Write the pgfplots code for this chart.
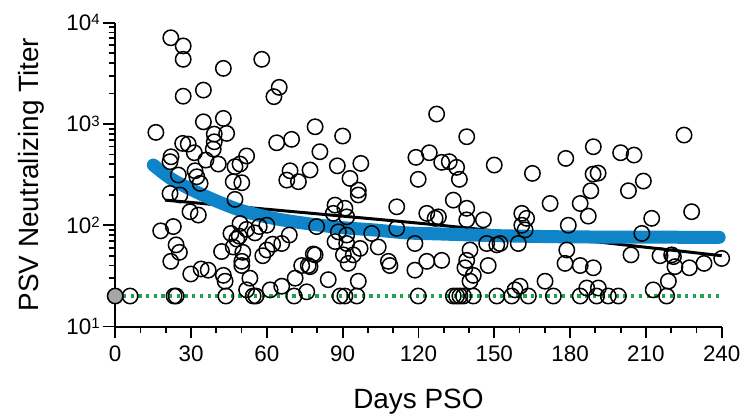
\documentclass[border=0pt]{standalone}
\usepackage{fontspec}
\setmainfont{Liberation Sans}
\usepackage{pgfplots}
\pgfplotsset{compat=1.18}
\definecolor{fitblue}{RGB}{16,132,200}
\definecolor{dotgreen}{RGB}{30,160,80}
\definecolor{lodgray}{RGB}{166,166,166}
\newcommand{\tenpow}[1]{10\raisebox{5.8bp}{\fontsize{15}{15}\selectfont #1}}
\begin{document}
\begin{tikzpicture}
\useasboundingbox (-115.2bp,-87.5bp) rectangle (629.8bp,326.5bp);
\begin{axis}[
  at={(0,0)}, anchor=south west,
  scale only axis, width=606.5bp, height=303.8bp,
  xmin=0, xmax=240, ymin=10, ymax=10000, ymode=log,
  axis lines=left, axis line style={-, line width=2bp},
  clip=false,
  xtick={0,30,...,240}, minor x tick num=2,
  ytick={10,100,1000,10000},
  yticklabels={\tenpow{1},\tenpow{2},\tenpow{3},\tenpow{4}},
  tick align=outside,
  major tick length=12bp, minor tick length=6.5bp,
  tick style={line width=1.8bp, black},
  ticklabel style={font=\fontsize{22.5}{27}\selectfont},
  xticklabel style={yshift=-4bp},
  label style={font=\fontsize{28}{33}\selectfont},
  xlabel={Days PSO}, ylabel={PSV Neutralizing Titer},
  x label style={at={(rel axis cs:0.5,-0.248)},anchor=center},
  y label style={at={(rel axis cs:-0.1386,0.5)},anchor=center},
  /pgf/number format/assume math mode=true,
]
\addplot[only marks, mark=o, mark size=7.7bp, mark options={line width=1.5bp, black}] coordinates {
(22,7100) (26.9,5900) (26.9,4350) (42.8,3540) (58,4350) (26.9,1880) (34.9,2160) (64.9,2300)
(62.8,1860) (16.1,826) (34.9,1050) (42.8,1135) (39.2,794) (44.1,807) (26.7,643) (28.9,633)
(39.2,667) (38.8,565) (31.3,520) (22.1,474) (21.7,424) (35.9,440) (40.8,402) (52,483)
(49.4,402) (47.4,379) (31.6,345) (63.9,652) (69.8,705) (69.2,345) (67.9,279) (72.5,269)
(46.7,269) (50.1,263) (25,313) (32.3,301) (33.6,259) (79.1,938) (90,760) (81,532)
(77.1,351) (87.9,386) (97.2,408) (92.9,290) (96.2,222) (96.2,199) (127.2,1253) (139.1,748)
(119,468) (124.3,520) (129.2,418) (132.2,424) (135.1,373) (119.9,284) (136.2,284) (150,393)
(165.1,325) (178.3,457) (189.2,596) (200,520) (205.3,493) (189.1,320) (191.1,327) (188.2,219)
(209,273) (203.1,219) (225.1,777) (5.9,20) (23.3,20) (24.1,20) (43.8,20) (54.6,20)
(55.7,20) (70.8,20) (21.7,206) (25.6,199) (29.6,136) (32.9,126) (47.4,180) (18,88)
(23,97) (24.1,64) (25.4,54) (22,44) (29.9,33) (34,37) (36.8,36) (42.8,32)
(43.5,28) (42.1,55) (45.8,83) (48.1,73) (49.4,104) (52,91) (55.3,84) (57,97)
(60,100) (49.1,78) (46.7,61) (50.5,54) (50.1,44) (50.1,40) (53.3,30) (52,23)
(58.4,50) (60,57) (62.3,65) (65.9,66) (68.9,80) (61.3,23) (65.9,25) (71.2,30)
(73.8,40) (76.4,40) (78.4,52) (75.8,22) (87,158) (86.3,131) (90.9,147) (91.6,121)
(88.3,86) (91.6,80) (87,69) (91.6,66) (96.9,59) (94.2,51) (90.3,51) (92.2,42)
(79.7,97) (79.1,51) (77.1,39) (84.3,29) (89,20) (90.9,20) (95.6,20) (96.2,28)
(101.5,83) (104.1,61) (108.1,44) (108.7,40) (111.4,152) (111.4,93) (118.6,66) (118.6,36)
(119.9,20) (123.3,131) (126.6,117) (127.9,121) (123.3,44) (129.2,45) (133.8,177) (139.1,147)
(139.1,113) (145.7,113) (140.4,57) (139.1,45) (138.4,38) (141.7,32) (140.4,28) (147.6,40)
(147,66) (152.3,66) (151,64) (158.2,23) (133.8,20) (135.1,20) (136.4,20) (137.8,20)
(141.7,20) (151,20) (156.9,20) (172.1,164) (160.9,131) (162.8,117) (160.9,100) (162.2,90)
(159.5,66) (179.3,100) (178.7,57) (178,42) (184,164) (187.2,123) (184,40) (189.2,38)
(170.1,28) (160.2,25) (163.5,20) (173.4,20) (184,20) (186.6,24) (191.2,24) (190.5,20)
(195.1,20) (199.1,20) (208.4,83) (212.3,117) (204.1,51) (228.1,136) (215.6,50) (220.2,51)
(220.9,49) (221.5,39) (227.2,38) (233,42) (240,47) (218.9,28) (212.9,23) (218.2,20)
};
\addplot[dotgreen, line width=3.3bp, dash pattern=on 3.3bp off 4.4bp] coordinates {(0,20) (240,20)};
\addplot[only marks, mark=*, mark size=7.7bp, mark options={fill=lodgray, draw=black, line width=1.5bp}] coordinates {(0,20)};
\addplot[black, line width=3bp, smooth] coordinates {(19.7,177) (75,133) (128.5,100) (185,71) (240,50)};
\addplot[fitblue, line width=13bp, line cap=round, smooth] coordinates {
(15.1,393) (23,279) (36.2,191) (49.4,141) (62.6,117) (75.8,104) (89,95) (102.1,90)
(115.4,84) (128.5,82) (150,79) (175,77) (200,76.3) (239,76)
};
\end{axis}
\end{tikzpicture}
\end{document}
